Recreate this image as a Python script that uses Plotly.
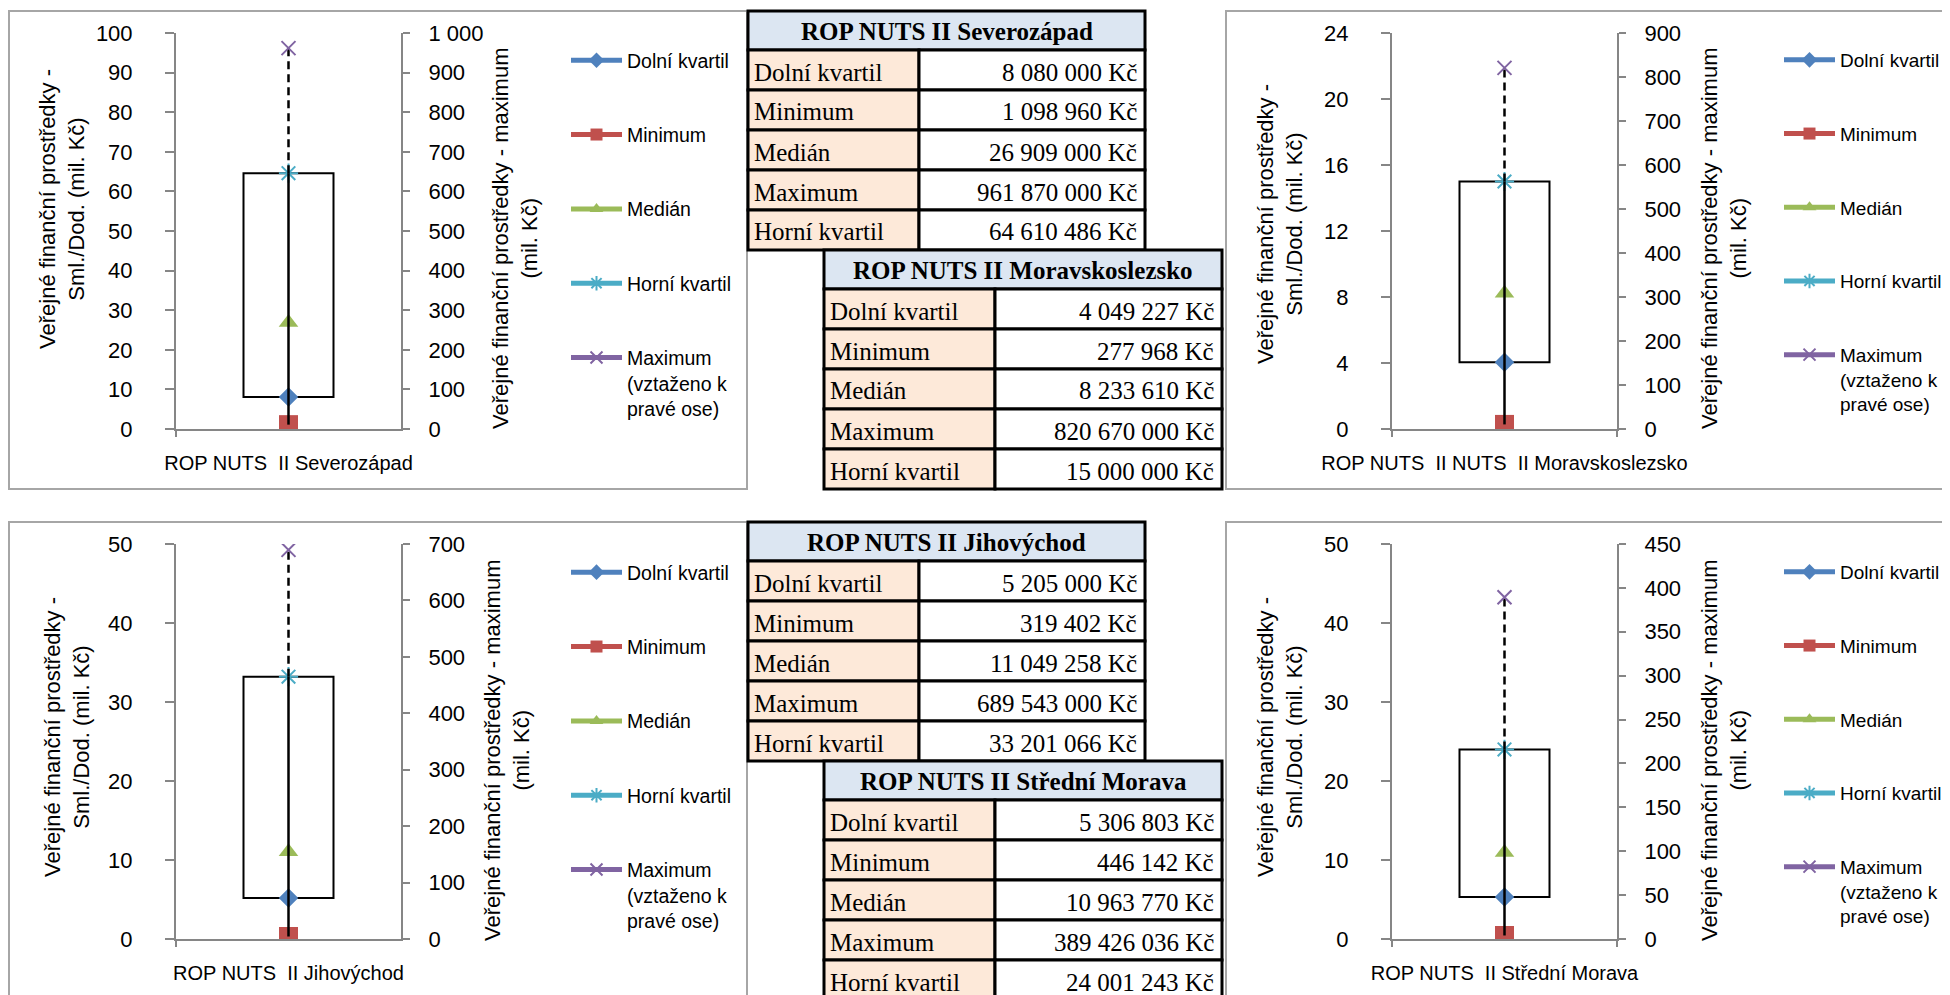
import plotly.graph_objects as go

# ---------------- data ----------------
categories = [
    "ROP NUTS\u00a0\u00a0II Severozápad",
    "ROP NUTS\u00a0\u00a0II NUTS\u00a0\u00a0II Moravskoslezsko",
    "ROP NUTS\u00a0\u00a0II Jihovýchod",
    "ROP NUTS\u00a0\u00a0II Střední Morava",
]
table_titles = [
    "ROP NUTS II Severozápad",
    "ROP NUTS II Moravskoslezsko",
    "ROP NUTS II Jihovýchod",
    "ROP NUTS II Střední Morava",
]
stat_labels = ["Dolní kvartil", "Minimum", "Medián", "Maximum", "Horní kvartil"]

q1_czk = [8080000, 4049227, 5205000, 5306803]
min_czk = [1098960, 277968, 319402, 446142]
median_czk = [26909000, 8233610, 11049258, 10963770]
max_czk = [961870000, 820670000, 689543000, 389426036]
q3_czk = [64610486, 15000000, 33201066, 24001243]

left_max = [100, 24, 50, 50]
left_dtick = [10, 4, 10, 10]
right_max = [1000, 900, 700, 450]
right_dtick = [100, 100, 100, 50]

legend_names = ["Dolní kvartil", "Minimum", "Medián", "Horní kvartil",
                "Maximum<br>(vztaženo k<br>pravé ose)"]
left_title = "Veřejné finanční prostředky -<br>Sml./Dod. (mil. Kč)"
right_title = "Veřejné finanční prostředky - maximum<br>(mil. Kč)"

# ---------------- layout geometry (screen pixels) ----------------
W, H = 1950, 995
OFF = 8  # default page body margin of the exported html
plot_x = [(176, 401), (1392, 1617), (176, 401), (1392, 1617)]
plot_y = [(33, 429), (33, 429), (544, 939), (544, 939)]
legend_pos = [(566, 41), (1779, 41), (566, 553), (1779, 553)]
legend_font = [19.5, 19, 19.5, 19]
ltitle_pos = [(62, 209), (1280, 224), (67, 737), (1280, 737)]
rtitle_pos = [(515, 238), (1724, 238), (507, 750), (1724, 750)]
frames = [(9, 11, 747, 489), (1226, 11, 1970, 489), (9, 522, 747, 1015), (1226, 522, 1970, 1015)]
table_origin = [(748, 11), (824, 250), (748, 522), (824, 761)]
col_w = [(171, 226), (171, 227), (171, 226), (171, 227)]
header_h, row_h = 39, 40

C_Q1, C_MIN, C_MED, C_Q3, C_MAX = "#4F81BD", "#C0504D", "#9BBB59", "#4BACC6", "#8064A2"
AX = "#868686"
FONT = "Liberation Sans"
SERIF = "Liberation Serif"


def px(x):
    return (x - OFF) / W


def py(y):
    return 1 - (y - OFF) / H


def fmt(v):
    return f"{v:,}".replace(",", " ") + " Kč"


fig = go.Figure()
layout = {}
shapes = []
annotations = []

for i in range(4):
    n = i + 1
    xa = "x" if n == 1 else f"x{n}"
    ylid, yrid = 2 * i + 1, 2 * i + 2
    yla = "y" if ylid == 1 else f"y{ylid}"
    yra = f"y{yrid}"
    leg = "legend" if n == 1 else f"legend{n}"
    cat = categories[i]
    q1 = q1_czk[i] / 1e6
    mn = min_czk[i] / 1e6
    med = median_czk[i] / 1e6
    q3 = q3_czk[i] / 1e6
    mx = max_czk[i] / 1e6

    # box (Q1 .. Q3)
    fig.add_trace(go.Bar(x=[cat], y=[q3 - q1], base=[q1], width=0.4,
                         marker=dict(color="rgba(0,0,0,0)", line=dict(color="black", width=2)),
                         xaxis=xa, yaxis=yla, showlegend=False, hoverinfo="skip"))

    series = [
        (q1, legend_names[0], "diamond", 15, C_Q1, yla),
        (mn, legend_names[1], "square", 19, C_MIN, yla),
        (med, legend_names[2], "triangle-up", 17, C_MED, yla),
        (q3, legend_names[3], "asterisk-open", 16, C_Q3, yla),
    ]
    for k, (val, name, sym, size, col, ya) in enumerate(series):
        mk = dict(symbol=sym, size=size, color=col)
        if sym.endswith("open"):
            mk["line"] = dict(color=col, width=2)
        fig.add_trace(go.Scatter(x=[cat], y=[val], mode="lines+markers", name=name,
                                 marker=mk, line=dict(color=col, width=4),
                                 xaxis=xa, yaxis=ya, legend=leg, legendgroup=f"g{n}_{k}"))

    # whisker (solid, left axis)
    fig.add_trace(go.Scatter(x=[cat, cat], y=[mn, q3], mode="lines",
                             line=dict(color="black", width=2.5),
                             xaxis=xa, yaxis=yla, showlegend=False, hoverinfo="skip"))

    # dashed line to maximum (right axis)
    scale = right_max[i] / left_max[i]
    fig.add_trace(go.Scatter(x=[cat, cat], y=[q3 * scale, mx], mode="lines",
                             line=dict(color="black", width=2.5, dash="8px,5px"),
                             xaxis=xa, yaxis=yra, showlegend=False, hoverinfo="skip"))
    fig.add_trace(go.Scatter(x=[cat], y=[mx], mode="lines+markers", name=legend_names[4],
                             marker=dict(symbol="x-thin-open", size=14, color=C_MAX,
                                         line=dict(color=C_MAX, width=2)),
                             line=dict(color=C_MAX, width=4),
                             xaxis=xa, yaxis=yra, legend=leg, legendgroup=f"g{n}_4"))

    x0, x1 = plot_x[i]
    ytop, ybot = plot_y[i]
    layout["xaxis" if n == 1 else f"xaxis{n}"] = dict(
        domain=[px(x0), px(x1)], anchor=yla, type="category", range=[-0.5, 0.5],
        showline=True, linecolor=AX, linewidth=2, ticks="outside", tickson="boundaries",
        ticklen=6, tickcolor=AX, tickwidth=2, showgrid=False, zeroline=False,
        tickangle=0, automargin=False,
        tickfont=dict(family=FONT, size=20, color="black"), ticklabelstandoff=15,
        fixedrange=True)
    layout["yaxis" if ylid == 1 else f"yaxis{ylid}"] = dict(
        domain=[py(ybot), py(ytop)], anchor=xa, range=[0, left_max[i]],
        tick0=0, dtick=left_dtick[i], showline=True, linecolor=AX, linewidth=2,
        ticks="outside", ticklen=9, tickcolor=AX, tickwidth=2, showgrid=False,
        zeroline=False, automargin=False,
        tickfont=dict(family=FONT, size=22, color="black"),
        ticklabelstandoff=28, fixedrange=True)
    layout[f"yaxis{yrid}"] = dict(
        overlaying=yla, side="right", anchor=xa, range=[0, right_max[i]],
        tick0=0, dtick=right_dtick[i], separatethousands=True, showline=True,
        linecolor=AX, linewidth=2, ticks="outside", ticklen=7, tickcolor=AX, tickwidth=2,
        showgrid=False, zeroline=False, automargin=False,
        tickfont=dict(family=FONT, size=22, color="black"),
        ticklabelstandoff=14, fixedrange=True)

    lx, ly = legend_pos[i]
    layout[leg] = dict(x=px(lx), y=py(ly), xanchor="left", yanchor="top",
                       bgcolor="rgba(0,0,0,0)", borderwidth=0,
                       font=dict(family=FONT, size=legend_font[i], color="black"),
                       itemwidth=51, itemsizing="constant", tracegroupgap=46,
                       traceorder="grouped", valign="top")

    # axis titles
    for (tx, ty), txt in ((ltitle_pos[i], left_title), (rtitle_pos[i], right_title)):
        annotations.append(dict(x=px(tx), y=py(ty), xref="paper", yref="paper",
                                text=txt, textangle=-90, showarrow=False,
                                xanchor="center", yanchor="middle",
                                font=dict(family=FONT, size=22, color="black")))

    # frame
    fx0, fy0, fx1, fy1 = frames[i]
    shapes.append(dict(type="rect", xref="paper", yref="paper", x0=px(fx0), x1=px(fx1),
                       y0=py(fy1), y1=py(fy0), line=dict(color="#A6A6A6", width=2),
                       fillcolor="rgba(0,0,0,0)", layer="below"))

# ---------------- tables ----------------
for t in range(4):
    tx, ty = table_origin[t]
    c1, c2 = col_w[t]
    tw = c1 + c2
    values = [q1_czk[t], min_czk[t], median_czk[t], max_czk[t], q3_czk[t]]
    # header
    shapes.append(dict(type="rect", xref="paper", yref="paper", x0=px(tx), x1=px(tx + tw),
                       y0=py(ty + header_h), y1=py(ty), fillcolor="#DCE6F2",
                       line=dict(color="black", width=3)))
    annotations.append(dict(x=px(tx + tw / 2), y=py(ty + header_h / 2 + 1), xref="paper", yref="paper",
                            text=f"<b>{table_titles[t]}</b>", showarrow=False,
                            xanchor="center", yanchor="middle",
                            font=dict(family=SERIF, size=25, color="black")))
    for r in range(5):
        r0 = ty + header_h + r * row_h
        r1 = r0 + row_h
        shapes.append(dict(type="rect", xref="paper", yref="paper", x0=px(tx), x1=px(tx + c1),
                           y0=py(r1), y1=py(r0), fillcolor="#FDE9D9",
                           line=dict(color="black", width=3)))
        shapes.append(dict(type="rect", xref="paper", yref="paper", x0=px(tx + c1), x1=px(tx + tw),
                           y0=py(r1), y1=py(r0), fillcolor="white",
                           line=dict(color="black", width=3)))
        annotations.append(dict(x=px(tx + 4), y=py((r0 + r1) / 2 + 2), xref="paper", yref="paper",
                                text=stat_labels[r], showarrow=False, xanchor="left",
                                yanchor="middle", font=dict(family=SERIF, size=25, color="black")))
        annotations.append(dict(x=px(tx + tw - 6), y=py((r0 + r1) / 2 + 2), xref="paper", yref="paper",
                                text=fmt(values[r]), showarrow=False, xanchor="right",
                                yanchor="middle", font=dict(family=SERIF, size=25, color="black")))

fig.update_layout(
    width=W, height=H, autosize=False,
    margin=dict(l=0, r=0, t=0, b=0, pad=0, autoexpand=False),
    paper_bgcolor="white", plot_bgcolor="rgba(0,0,0,0)",
    separators=", ",
    barmode="overlay",
    showlegend=True,
    shapes=shapes, annotations=annotations,
    **layout,
)

fig.write_html("out.html")
